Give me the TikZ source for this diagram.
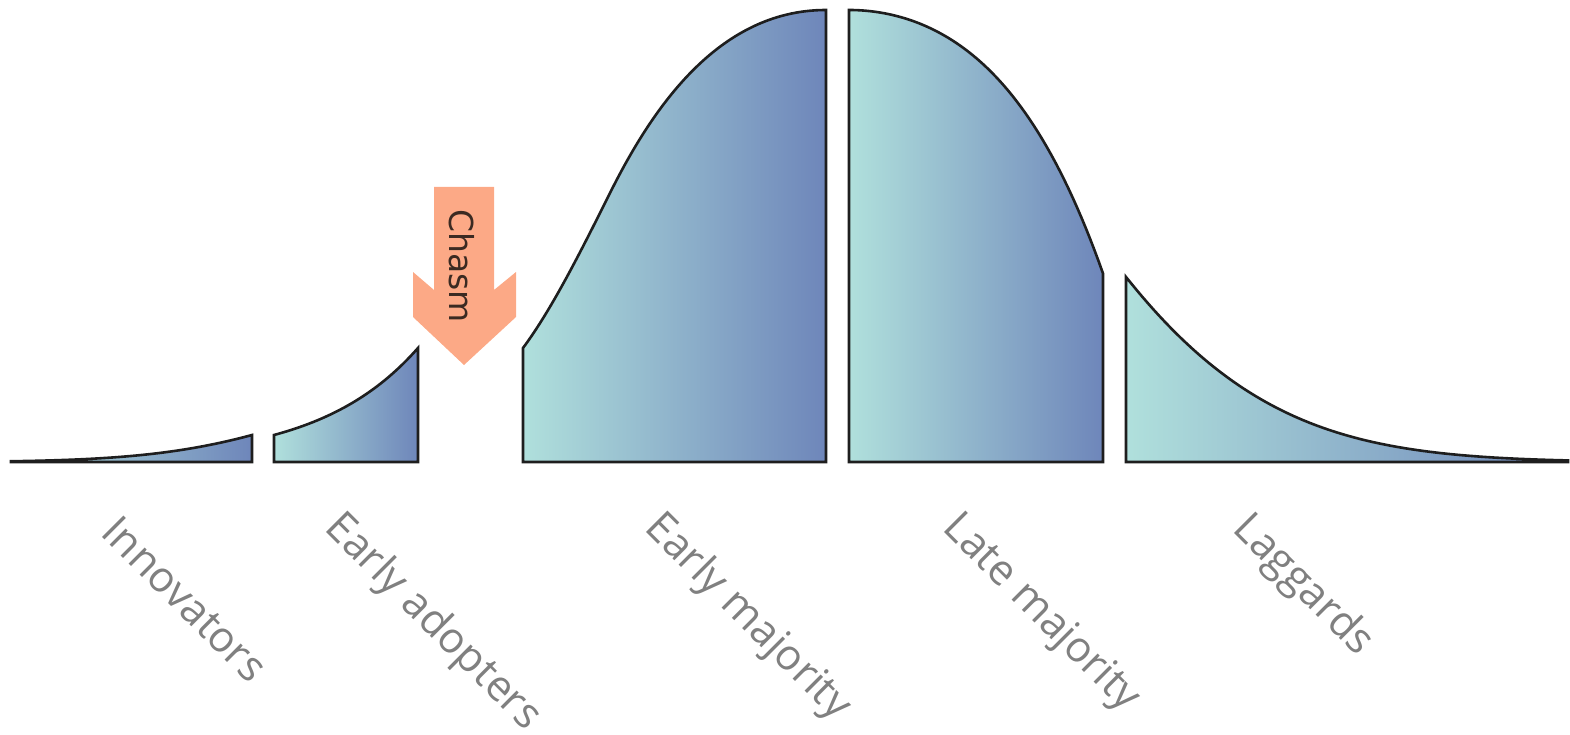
\documentclass[tikz,border=0pt]{standalone}
\usepackage{fontspec}
\setmainfont{Open Sans}
\newfontfamily\chasmfont{DejaVu Sans}
\definecolor{tealcol}{HTML}{B0E0DC}
\definecolor{bluecol}{HTML}{6E86BA}
\definecolor{edgecol}{HTML}{1E1E1E}
\definecolor{chasmcol}{HTML}{FCA986}
\definecolor{chasmtxt}{HTML}{3B2A22}
\definecolor{labelcol}{HTML}{808080}
\tikzset{
  segment/.style={draw=edgecol, line width=2.6pt, line join=miter,
    left color=tealcol, right color=bluecol},
  grouplabel/.style={labelcol, anchor=base west, rotate=-45,
    font=\fontsize{42.5}{52}\selectfont},
}

\begin{document}
\begin{tikzpicture}[x=1pt, y=-1pt]
\useasboundingbox (0,0) rectangle (1570,735);
\pgfmathsetmacro{\base}{462}

% === Innovators ===
\path[segment] (11,\base) -- plot[domain=11:252, samples=60]
  (\x, {\base-27*exp(-(252-\x)/100-0.2*((252-\x)/100)^2)}) -- (252,\base) -- cycle;

% === Early adopters ===
\path[segment] (274,\base) -- plot[domain=274:418, samples=40]
  (\x, {\base-114*exp(-(418-\x)/100)}) -- (418,\base) -- cycle;

% === Early majority ===
\path[segment] (523,\base) -- (523,348)
  .. controls (552,309) and (581,251) .. (610,193)
  .. controls (650,113) and (716,10) .. (826,10) -- (826,\base) -- cycle;

% === Late majority ===
\path[segment] (849,\base) -- plot[domain=849:1103, samples=60]
  (\x, {\base-452+26*((\x-849)/100)^2+2.3*((\x-849)/100)^4}) -- (1103,\base) -- cycle;

% === Laggards ===
\path[segment] (1126,\base) -- plot[domain=1126:1568, samples=80]
  (\x, {\base-185*exp(-0.68*(\x-1126)/100-0.09*((\x-1126)/100)^2)})
  -- (1568,\base) -- cycle;

% === Chasm arrow ===
\fill[chasmcol] (434,187) -- (494,187) -- (494,290) -- (516,272) -- (516,317)
  -- (464,365) -- (413,317) -- (413,272) -- (434,290) -- cycle;
\node[chasmtxt, rotate=-90, font=\chasmfont\fontsize{33}{40}\selectfont]
  (chasm) at (462,266) {Chasm};

% === Group labels ===
\node[grouplabel] (innov) at (97,532) {Innovators};
\node[grouplabel] (adopt) at (321,527) {Early adopters};
\node[grouplabel] (emaj) at (641,527) {Early majority};
\node[grouplabel] (lmaj) at (939,527) {Late majority};
\node[grouplabel] (lagg) at (1229,528) {Laggards};

\end{tikzpicture}
\end{document}
